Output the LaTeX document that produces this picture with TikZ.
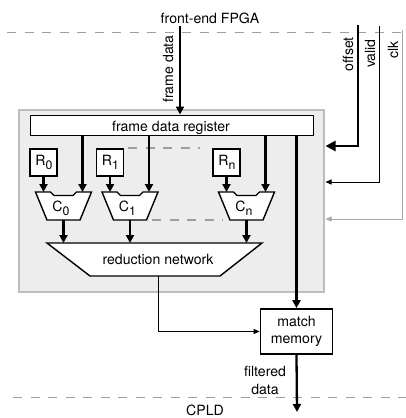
\documentclass[tikz,border=0pt]{standalone}
\usepackage{fontspec}
\setmainfont{TeX Gyre Heros}
\usetikzlibrary{arrows.meta,calc}

\definecolor{boxfill}{HTML}{EDEDED}
\definecolor{boxedge}{HTML}{BDBDBD}
\definecolor{dashgray}{HTML}{9E9E9E}
\definecolor{clkgray}{HTML}{A8A8A8}

% lowered, slightly smaller index used in R_i and C_i
\newcommand\lowsub[1]{\raisebox{-4pt}{\fontsize{12.3}{13}\selectfont #1}}

\tikzset{
  lbl/.style={font=\fontsize{14.1}{17.5}\selectfont, inner sep=0pt},
  bus/.style={line width=2.3pt, -{Triangle[length=8pt,width=8pt]}},
  wire/.style={line width=0.9pt, -{Triangle[length=6pt,width=5pt]}},
  border/.style={dashgray, line width=1.9pt, dash pattern=on 9pt off 8.5pt},
  gap/.style={dashgray, line width=1.5pt, dash pattern=on 9pt off 8.5pt},
  rbox/.style={draw, line width=1.7pt, fill=white, minimum width=27pt, minimum height=27pt, inner sep=0pt},
  cmp/.pic={
    \draw[line width=1.4pt, fill=white, line join=miter]
      (-28,-14) -- (-13,-14) -- (-9.5,-10.5) -- (9.5,-10.5) -- (13,-14) -- (28,-14)
      -- (16.5,14) -- (-16.5,14) -- cycle;
    \coordinate (-inl) at (-20,-14);
    \coordinate (-inr) at (19,-14);
    \coordinate (-out) at (0,14);
    \node[lbl, anchor=base] at (-2.5,5.5) {C\lowsub{#1}};
  },
}

\begin{document}
\begin{tikzpicture}[x=1pt, y=-1pt]
  \useasboundingbox (0,0) rectangle (406,418);

  % chip boundaries
  \draw[border] (7,32.5) -- (406,32.5);
  \draw[border] (13,397.5) -- (406,397.5);
  \node[lbl] (fpga) at (210,18) {front-end FPGA};
  \node[lbl] (cpld) at (205,410.5) {CPLD};

  % filter block
  \node[draw=boxedge, fill=boxfill, line width=1.4pt, minimum width=305pt, minimum height=182pt, inner sep=0pt] (grp) at (171.5,201) {};

  \node[draw, line width=1pt, fill=white, minimum width=283pt, minimum height=20pt, inner sep=0pt] (reg) at (171.5,125) {};
  \node[lbl, anchor=base] at (171,131) {frame data register};

  % reference registers
  \node[rbox] (r0) at (43.5,162.5) {};
  \node[rbox] (r1) at (110,162.5) {};
  \node[rbox] (rn) at (226.5,162.5) {};
  \node[lbl, anchor=base] at ($(r0.center)+(0.5,3)$) {R\lowsub{0}};
  \node[lbl, anchor=base] at ($(r1.center)+(0.5,3)$) {R\lowsub{1}};
  \node[lbl, anchor=base] at ($(rn.center)+(0.5,3)$) {R\lowsub{n}};

  % comparators
  \pic (c0) at (63.5,206) {cmp=0};
  \pic (c1) at (130,206) {cmp=1};
  \pic (cn) at (246.5,206) {cmp=n};

  % elided middle columns
  \draw[gap] (128,148) -- (200,148);
  \draw[gap] (152,220) -- (223,220);

  % reduction network
  \draw[line width=1.4pt, fill=white, line join=miter]
    (47,243) -- (262,243) -- (220,276) -- (90,276) -- cycle;
  \coordinate (rtop0) at (63.5,243);
  \coordinate (rtop1) at (130,243);
  \coordinate (rtopn) at (246.5,243);
  \coordinate (rout) at (158,276);
  \node[lbl] (red) at (158,259.5) {reduction network};

  % match memory
  \node[lbl, draw, line width=1.7pt, fill=white, minimum width=72pt, minimum height=45pt, align=center] (mm) at (296.5,331.5) {match\\memory};

  % inputs from the FPGA
  \coordinate (fdin) at (180,26);
  \draw[bus] (fdin) -- (reg.north -| fdin);
  \node[lbl, rotate=90] at (168,69) {frame data};

  % register outputs to comparators and memory
  \draw[bus] (c0-inr |- reg.south) -- (c0-inr);
  \draw[bus] (c1-inr |- reg.south) -- (c1-inr);
  \draw[bus] (cn-inr |- reg.south) -- (cn-inr);
  \draw[bus] (mm.north |- reg.south) -- (mm.north);

  \draw[bus] (r0.south) -- (c0-inl);
  \draw[bus] (r1.south) -- (c1-inl);
  \draw[bus] (rn.south) -- (cn-inl);

  \draw[bus] (c0-out) -- (rtop0);
  \draw[bus] (c1-out) -- (rtop1);
  \draw[bus] (cn-out) -- (rtopn);

  \draw[wire] (rout) |- (mm.west);

  % control signals
  \coordinate (offin) at (358,25);
  \coordinate (offend) at (325.5,146);
  \coordinate (valin) at (379,26);
  \coordinate (valend) at (325.5,182);
  \coordinate (clkin) at (402,30);
  \coordinate (clkend) at (325.5,219);
  \draw[line width=2.6pt, -{Triangle[length=10pt,width=10pt]}] (offin) |- (offend);
  \draw[wire] (valin) |- (valend);
  \draw[wire, clkgray] (clkin) |- (clkend);
  \node[lbl, rotate=90, anchor=east] at (348,37) {offset};
  \node[lbl, rotate=90, anchor=east] at (370,39) {valid};
  \node[lbl, rotate=90, anchor=east] at (393,41) {clk};

  % filtered output
  \coordinate (out) at (297,412);
  \draw[bus] (mm.south) -- (out);
  \node[lbl, align=center] at (265,380.5) {filtered\\data};
\end{tikzpicture}
\end{document}
